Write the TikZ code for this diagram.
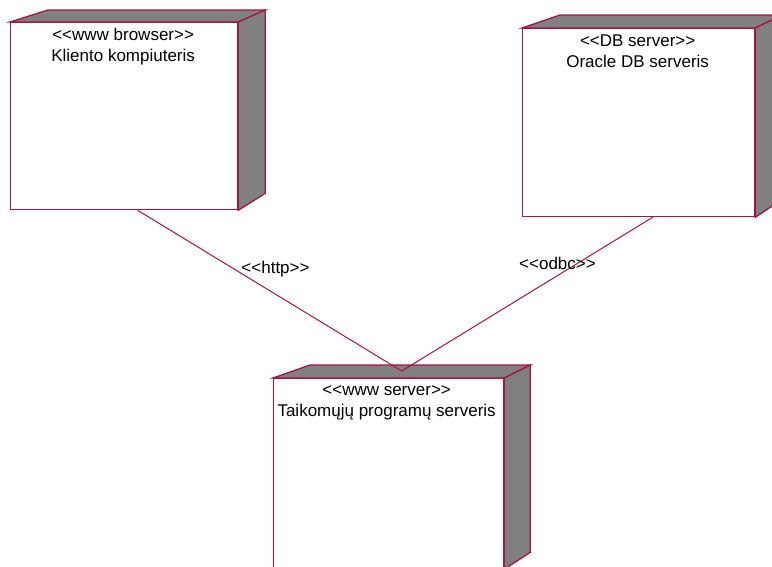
\documentclass[tikz,border=0pt]{standalone}
\usepackage{fontspec}
\setmainfont{Liberation Sans}[Ligatures=TeXOff]
\usetikzlibrary{calc}
\definecolor{edge}{RGB}{165,20,70}
\definecolor{shade}{RGB}{128,128,128}
\tikzset{
  front/.style={draw=edge, fill=white, line width=1.3pt, rectangle, inner sep=0pt, anchor=north west},
  depth/.style={draw=edge, fill=shade, line width=1.3pt, line join=miter},
  title/.style={anchor=base, inner sep=0pt, font=\fontsize{17}{20}\selectfont, text=black},
  link/.style={draw=edge, line width=1pt},
  linklabel/.style={anchor=base, inner sep=0pt, font=\fontsize{17}{20}\selectfont, text=black}
}
\begin{document}
\begin{tikzpicture}[x=1pt, y=-1pt]
  \clip (0,0) rectangle (772,566);
  \fill[white] (0,0) rectangle (772,566);

  % client machine
  \node[front, minimum width=227pt, minimum height=187pt] (client) at (10,22) {};
  \draw[depth] (client.north west) -- ++(38,-12) -- ($(client.north east)+(27,-12)$) -- (client.north east) -- cycle;
  \draw[depth] (client.north east) -- ++(27,-12) -- ($(client.south east)+(27,-17)$) -- (client.south east) -- cycle;
  \node[title] (client-st) at ($(client.north)+(-1,18)$) {<<www browser>>};
  \node[title] (client-nm) at ($(client.north)+(-1,39)$) {Kliento kompiuteris};

  % database machine
  \node[front, minimum width=232pt, minimum height=188pt] (db) at (522,28) {};
  \draw[depth] (db.north west) -- ++(38,-13) -- ($(db.north east)+(27,-13)$) -- (db.north east) -- cycle;
  \draw[depth] (db.north east) -- ++(27,-13) -- ($(db.south east)+(27,-18)$) -- (db.south east) -- cycle;
  \node[title] (db-st) at ($(db.north)+(-1,18.5)$) {<<DB server>>};
  \node[title] (db-nm) at ($(db.north)+(-1,39)$) {Oracle DB serveris};

  % application server machine
  \node[front, minimum width=230pt, minimum height=190pt] (server) at (273,378) {};
  \draw[depth] (server.north west) -- ++(37,-13) -- ($(server.north east)+(26,-13)$) -- (server.north east) -- cycle;
  \draw[depth] (server.north east) -- ++(26,-13) -- ($(server.south east)+(26,-17)$) -- (server.south east) -- cycle;
  \node[title] (server-st) at ($(server.north)+(-2,17.5)$) {<<www server>>};
  \node[title] (server-nm) at ($(server.north)+(-2,38.5)$) {Taikomųjų programų serveris};

  % connections
  \coordinate (apex) at ($(server.north)+(13,-7)$);
  \coordinate (client-end) at ($(client.south)+(13.5,0)$);
  \coordinate (db-end) at ($(db.south)+(14,0)$);
  \draw[link] (client-end) -- (apex);
  \draw[link] (db-end) -- (apex);
  \node[linklabel] (http) at (275.5,273) {<<http>>};
  \node[linklabel] (odbc) at (557.5,269) {<<odbc>>};
\end{tikzpicture}
\end{document}
